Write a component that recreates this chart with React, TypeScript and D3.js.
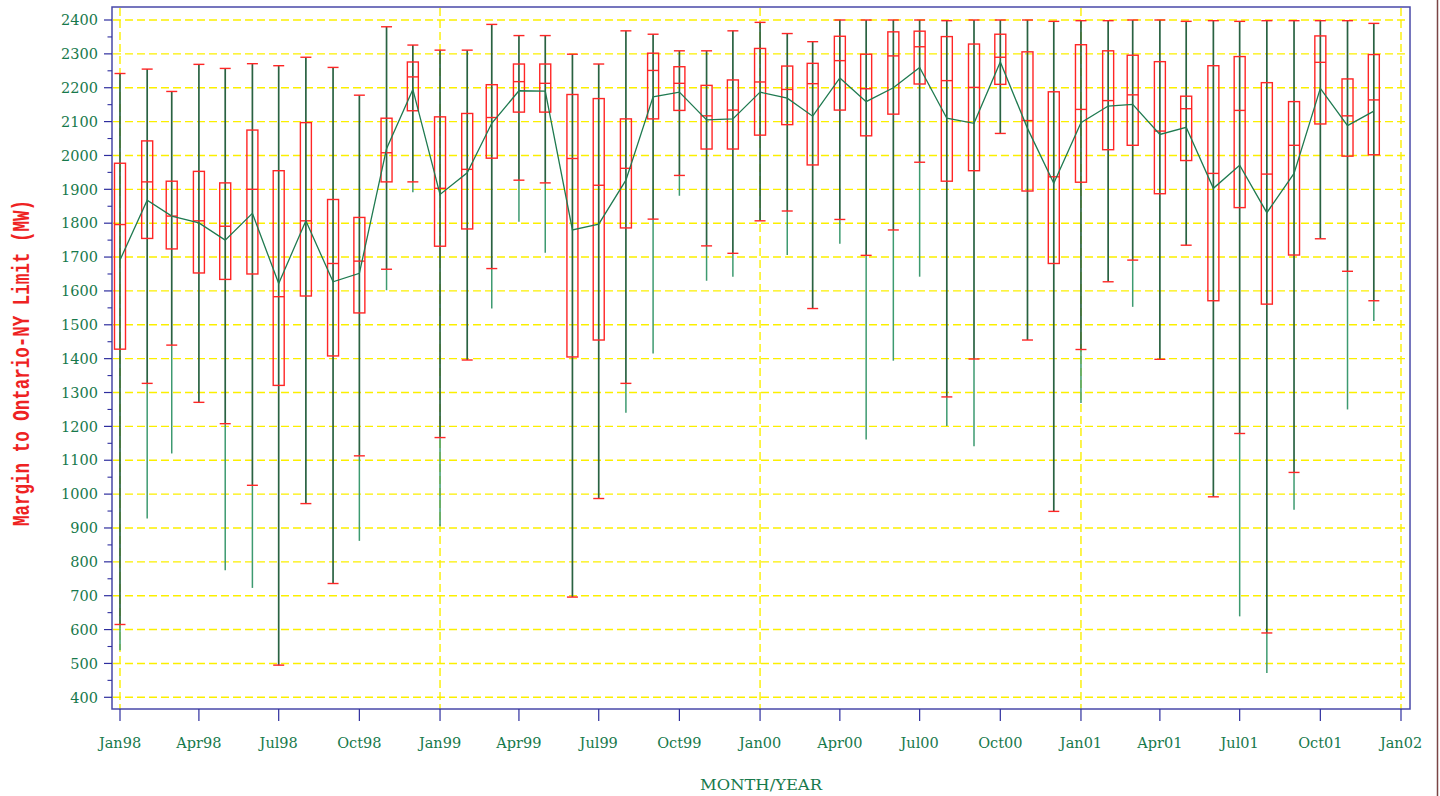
import React from "react";
import * as d3 from "d3";

const months = [
  "1998-01","1998-02","1998-03","1998-04","1998-05","1998-06","1998-07","1998-08","1998-09","1998-10","1998-11","1998-12",
  "1999-01","1999-02","1999-03","1999-04","1999-05","1999-06","1999-07","1999-08","1999-09","1999-10","1999-11","1999-12",
  "2000-01","2000-02","2000-03","2000-04","2000-05","2000-06","2000-07","2000-08","2000-09","2000-10","2000-11","2000-12",
  "2001-01","2001-02","2001-03","2001-04","2001-05","2001-06","2001-07","2001-08","2001-09","2001-10","2001-11","2001-12",
];

const hiCap = [2242,2255,2189,2269,2257,2271,2265,2290,2260,2178,2380,2326,
  2311,2311,2387,2354,2354,2299,2270,2368,2358,2309,2309,2368,
  2393,2360,2336,2400,2400,2400,2400,2398,2400,2400,2400,2396,
  2398,2398,2400,2400,2396,2398,2396,2398,2398,2398,2398,2390];
const q3 = [1977,2043,1924,1953,1919,2075,1955,2097,1870,1817,2110,2276,
  2114,2124,2209,2270,2270,2180,2168,2108,2302,2262,2207,2223,
  2316,2264,2272,2352,2299,2365,2367,2351,2329,2358,2306,2188,
  2327,2309,2296,2277,2175,2265,2292,2215,2159,2353,2226,2298];
const median = [1796,1922,1821,1807,1791,1900,1583,1807,1681,1688,2008,2232,
  1903,1959,2112,2218,2213,1991,1912,1962,2251,2213,2117,2134,
  2217,2195,2212,2280,2197,2294,2321,2221,2201,2290,2103,1937,
  2136,2162,2179,2072,2138,1947,2133,1945,2030,2275,2117,2164];
const q1 = [1428,1755,1724,1653,1634,1650,1321,1585,1408,1535,1922,2132,
  1732,1783,1992,2128,2128,1405,1455,1786,2108,2133,2019,2019,
  2060,2091,1972,2134,2058,2122,2211,1924,1955,2210,1895,1681,
  1921,2017,2030,1887,1985,1571,1846,1561,1706,2093,1998,2002];
const loCap = [615,1327,1440,1271,1208,1026,495,972,736,1113,1664,1922,
  1167,1396,1666,1927,1919,696,987,1327,1812,1941,1733,1711,
  1807,1836,1548,1811,1705,1780,1980,1287,1399,2065,1455,949,
  1427,1627,1691,1398,1735,992,1179,590,1064,1754,1658,1571];
const minV = [539,928,1120,1271,775,723,495,972,736,862,1602,1891,
  905,1396,1548,1804,1713,696,987,1240,1415,1881,1630,1642,
  1807,1706,1548,1739,1161,1394,1642,1201,1141,2065,1455,949,
  1269,1627,1553,1398,1735,992,639,472,954,1754,1250,1511];
const meanV = [1691,1868,1821,1801,1750,1829,1622,1807,1627,1652,2020,2195,
  1885,1949,2095,2191,2190,1780,1797,1927,2173,2187,2105,2108,
  2187,2169,2116,2229,2159,2200,2260,2110,2095,2276,2080,1918,
  2097,2146,2151,2062,2083,1903,1971,1831,1947,2198,2088,2131];

const xTickDates = ["1998-01","1998-04","1998-07","1998-10","1999-01","1999-04","1999-07","1999-10",
  "2000-01","2000-04","2000-07","2000-10","2001-01","2001-04","2001-07","2001-10","2002-01"];
const xTickLabels = ["Jan98","Apr98","Jul98","Oct98","Jan99","Apr99","Jul99","Oct99",
  "Jan00","Apr00","Jul00","Oct00","Jan01","Apr01","Jul01","Oct01","Jan02"];
const yearGrid = ["1998-01","1999-01","2000-01","2001-01","2002-01"];
const yTicks = d3.range(400, 2401, 100);
const yMinor = d3.range(450, 2400, 100);

const parse = d3.timeParse("%Y-%m");

export default function App() {
  const x = d3.scaleTime().domain([new Date(1998, 0, 1), new Date(2002, 0, 1)]).range([120, 1401]);
  const y = d3.scaleLinear().domain([400, 2400]).range([697.3, 20]);
  const left = 112, right = 1410, top = 7, bottom = 709;
  const green = "#17794b";
  const red = "#ff2626";
  const hw = 5.5;

  const meanLine = d3.line<number>()
    .x((_, i) => x(parse(months[i])!))
    .y((d) => y(d));

  return (
    <svg width={1440} height={796} style={{ position: "absolute", left: 0, top: 0, background: "#fff" }}>
      <rect x={0} y={0} width={1440} height={796} fill="#fff" />
      {/* grid */}
      {yTicks.map((t) => (
        <line key={"gh" + t} x1={left + 1} x2={right - 1} y1={y(t)} y2={y(t)} stroke="#fbef00" strokeWidth={1.4} strokeDasharray="8,4" />
      ))}
      {yearGrid.map((d) => (
        <line key={"gv" + d} x1={x(parse(d)!)} x2={x(parse(d)!)} y1={top + 1} y2={bottom} stroke="#fbef00" strokeWidth={1.4} strokeDasharray="8,4" />
      ))}
      {/* whiskers & boxes */}
      {months.map((m, i) => {
        const cx = x(parse(m)!);
        return (
          <g key={m}>
            <line x1={cx} x2={cx} y1={y(minV[i])} y2={y(loCap[i])} stroke="#3d9a70" strokeWidth={1.5} />
            <line x1={cx} x2={cx} y1={y(loCap[i])} y2={y(hiCap[i])} stroke="#2a6242" strokeWidth={1.7} />
            <rect x={cx - hw} y={y(q3[i])} width={hw * 2} height={y(q1[i]) - y(q3[i])} fill="none" stroke={red} strokeWidth={1.4} />
            <line x1={cx - hw} x2={cx + hw} y1={y(median[i])} y2={y(median[i])} stroke={red} strokeWidth={1.4} />
            <line x1={cx - hw} x2={cx + hw} y1={y(hiCap[i])} y2={y(hiCap[i])} stroke={red} strokeWidth={1.4} />
            <line x1={cx - hw} x2={cx + hw} y1={y(loCap[i])} y2={y(loCap[i])} stroke={red} strokeWidth={1.4} />
          </g>
        );
      })}
      <path d={meanLine(meanV) || ""} fill="none" stroke="#1f7a50" strokeWidth={1.3} />
      {/* frame */}
      <rect x={left} y={top} width={right - left} height={bottom - top} fill="none" stroke="#4848a8" strokeWidth={1.5} />
      {/* y axis ticks */}
      {yTicks.map((t) => (
        <g key={"yt" + t}>
          <line x1={left - 8} x2={left} y1={y(t)} y2={y(t)} stroke="#2e2e9e" strokeWidth={1.2} />
          <text x={98} y={y(t)} dy="0.36em" textAnchor="end" fontFamily="'DejaVu Serif', serif" fontSize={14.5} fill={green}>{t}</text>
        </g>
      ))}
      {yMinor.map((t) => (
        <line key={"ym" + t} x1={left - 4.5} x2={left} y1={y(t)} y2={y(t)} stroke="#2e2e9e" strokeWidth={1.1} />
      ))}
      {/* x axis ticks */}
      {xTickDates.map((d, i) => {
        const tx = x(parse(d)!);
        return (
          <g key={"xt" + d}>
            <line x1={tx} x2={tx} y1={bottom} y2={bottom + 12} stroke="#2e2e9e" strokeWidth={1.2} />
            <text x={tx} y={748} textAnchor="middle" fontFamily="'DejaVu Serif', serif" fontSize={14.5} fill={green}>{xTickLabels[i]}</text>
          </g>
        );
      })}
      {/* titles */}
      <text x={761} y={790} textAnchor="middle" fontFamily="'DejaVu Serif', serif" fontSize={15} fill={green} textLength={122} lengthAdjust="spacingAndGlyphs">MONTH/YEAR</text>
      <text transform="translate(29,363) rotate(-90)" textAnchor="middle" fontFamily="'Liberation Mono', monospace" fontWeight="bold" fontSize={24} fill="#ee2222" textLength={326} lengthAdjust="spacingAndGlyphs">Margin to Ontario-NY Limit (MW)</text>
      {/* page border */}
      <line x1={1437.5} x2={1437.5} y1={0} y2={796} stroke="#7a4444" strokeWidth={1.5} />
    </svg>
  );
}
